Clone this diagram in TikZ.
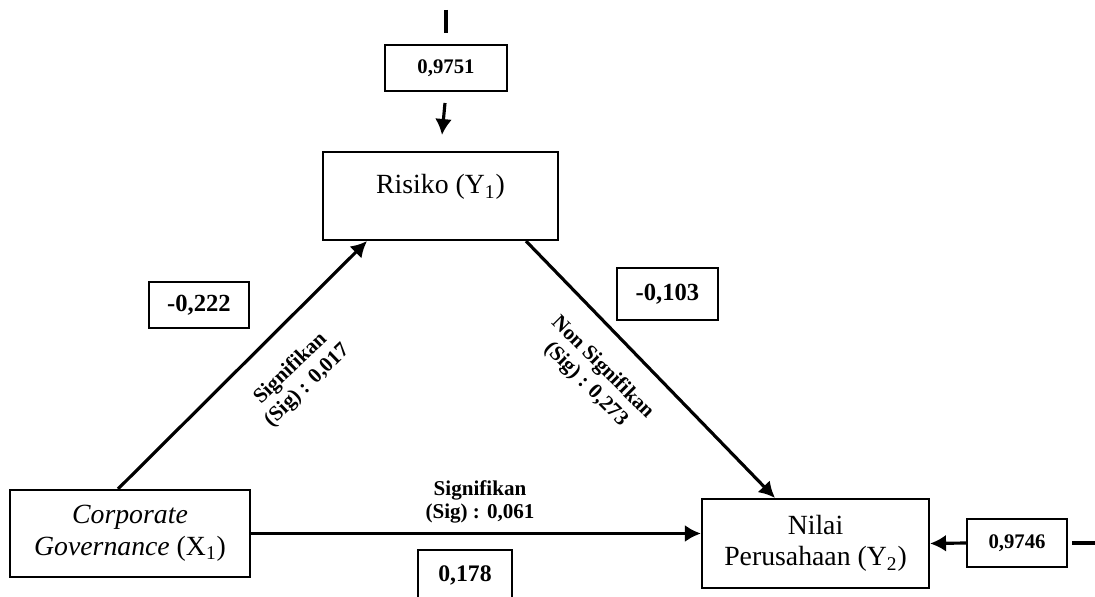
\documentclass[tikz,border=0pt]{standalone}
\usepackage{fontspec}
\setmainfont{Liberation Serif}
\usetikzlibrary{arrows.meta}

\begin{document}
\begin{tikzpicture}[x = .02cm, y = -.02cm,
    >={Latex[length = 3.2mm, width = 3.4mm]},
    box/.style = {draw, line width = 1.2pt, inner sep = 0pt},
    weight/.style = {box, font = \fontsize{11.8}{14}\selectfont\bfseries},
    var/.style = {box, font = \fontsize{15.8}{18}\selectfont, align = center},
    sig/.style = {font = \fontsize{12}{13.5}\selectfont\bfseries, align = center},
    path/.style = {line width = 1.8pt}]
      \useasboundingbox (0,0) rectangle (1095,597);
      \coordinate (ta) at (446,10);
      \coordinate (tb) at (446,33);
      \coordinate (ra) at (1072,543);
      \coordinate (rb) at (1095,543);
      \node [var, minimum width = 4.7cm, minimum height = 1.76cm,
             text height = .46cm, text depth = .54cm]
        (risk) at (440.5,196) {Risiko (Y\textsubscript{1})};
      \node [var, minimum width = 4.8cm, minimum height = 1.74cm]
        (cg) at (130,533.5) {\textit{Corporate}\\ \textit{Governance} (X\textsubscript{1})};
      \node [var, minimum width = 4.54cm, minimum height = 1.78cm]
        (val) at (815.5,543.5) {Nilai\\ Perusahaan (Y\textsubscript{2})};
      \node [weight, minimum width = 2.44cm, minimum height = .92cm]
        (e1) at (446,68) {0,9751};
      \node [weight, minimum width = 2cm, minimum height = .96cm]
        (e2) at (1017,543) {0,9746};
      \node [weight, minimum width = 2cm, minimum height = .92cm,
             font = \fontsize{14}{16}\selectfont\bfseries]
        (b1) at (199,305) {-0,222};
      \node [weight, minimum width = 2.02cm, minimum height = 1.04cm,
             font = \fontsize{14}{16}\selectfont\bfseries]
        (b2) at (667.5,294) {-0,103};
      \node [weight, minimum width = 1.88cm, minimum height = 1cm,
             font = \fontsize{13.5}{16}\selectfont\bfseries]
        (b3) at (465,575) {0,178};
      % paths
      \draw [line width = 2.6pt] (ta) -- (tb);
      \draw [line width = 2.6pt] (ra) -- (rb);
      \draw [path, ->, shorten <= .22cm, shorten >= .32cm] (e1.south) -- (risk.north);
      \draw [path, ->] (e2.west) -- (val.east);
      \draw [path, ->] ([xshift = -.24cm]cg.north) -- ([xshift = -1.47cm]risk.south);
      \draw [path, ->] ([xshift = 1.71cm]risk.south) -- ([xshift = -.81cm]val.north);
      \draw [path, ->] (cg.east) -- (cg.east -| val.west);
      \node [sig, rotate = 44] (s1) at (299,377) {Signifikan\\ (Sig) : 0,017};
      \node [sig, rotate = -45] (s2) at (594,376) {Non Signifikan\\ (Sig) : 0,273};
      \node [sig] (s3) at (480,502) {Signifikan\\ (Sig) : 0,061};
    \end{tikzpicture}
\end{document}
